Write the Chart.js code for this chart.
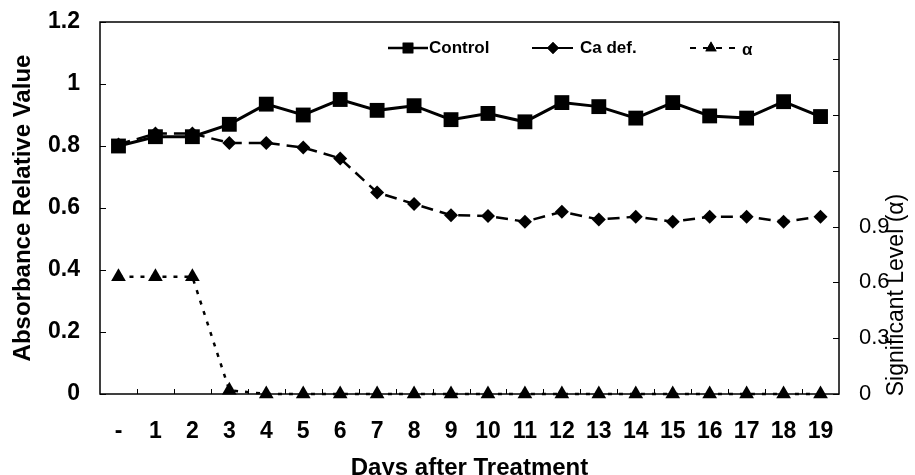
<!DOCTYPE html>
<html>
<head>
<meta charset="utf-8">
<script src="https://cdn.jsdelivr.net/npm/chart.js@4"></script>
<style>
html,body{margin:0;padding:0;background:#fff;}
#wrap{width:915px;height:475px;position:relative;}
</style>
</head>
<body>
<div id="wrap"><canvas id="c" width="915" height="475"></canvas></div>
<script>
// ---- data ----
const categories = ['-','1','2','3','4','5','6','7','8','9','10','11','12','13','14','15','16','17','18','19'];
const controlValues = [0.80,0.83,0.83,0.87,0.935,0.90,0.95,0.915,0.93,0.885,0.905,0.878,0.94,0.927,0.89,0.94,0.897,0.89,0.943,0.895];
const caDefValues = [0.805,0.84,0.84,0.81,0.81,0.795,0.76,0.65,0.613,0.577,0.574,0.556,0.588,0.563,0.572,0.556,0.572,0.572,0.556,0.572];
const alphaValues = [0.63,0.63,0.63,0.02,0,0,0,0,0,0,0,0,0,0,0,0,0,0,0,0];
const seriesNames = ['Control','Ca def.','\u03b1'];
const rightTickLabels = ['0','0.3','0.6','0.9'];
const leftAxisTitle = 'Absorbance Relative Value';
const rightAxisTitle = 'Significant Level (\u03b1)';
const xAxisTitle = 'Days after Treatment';

const FONT = "'Liberation Sans', Arial, sans-serif";

const framePlugin = {
  id: 'frame',
  beforeDatasetsDraw(chart) {
    const {ctx, chartArea: a, scales} = chart;
    ctx.save();
    ctx.strokeStyle = '#000';
    ctx.lineWidth = 1.5;
    ctx.strokeRect(a.left, a.top, a.right - a.left, a.bottom - a.top);
    ctx.lineWidth = 1;
    scales.y.ticks.forEach(t => {
      const py = Math.round(scales.y.getPixelForValue(t.value)) + 0.5;
      ctx.beginPath(); ctx.moveTo(a.left, py); ctx.lineTo(a.left + 6, py); ctx.stroke();
    });
    scales.y1.ticks.forEach(t => {
      const py = Math.round(scales.y1.getPixelForValue(t.value)) + 0.5;
      ctx.beginPath(); ctx.moveTo(a.right, py); ctx.lineTo(a.right - 6, py); ctx.stroke();
    });
    const x = scales.x;
    for (let i = 1; i < categories.length; i++) {
      const px = Math.round((x.getPixelForValue(i - 1) + x.getPixelForValue(i)) / 2) + 0.5;
      ctx.beginPath(); ctx.moveTo(px, a.bottom); ctx.lineTo(px, a.bottom - 5); ctx.stroke();
    }
    ctx.restore();
  },
  afterDraw(chart) {
    const {ctx} = chart;
    ctx.save();
    ctx.fillStyle = '#000';
    ctx.strokeStyle = '#000';
    const ly = 48;
    ctx.setLineDash([]);
    ctx.lineWidth = 2.5;
    ctx.beginPath(); ctx.moveTo(388, ly); ctx.lineTo(428, ly); ctx.stroke();
    Chart.helpers.drawPoint(ctx, {pointStyle:'rect', radius:7.5, borderWidth:0}, 408, ly); ctx.fill();
    ctx.lineWidth = 2;
    ctx.beginPath(); ctx.moveTo(532, ly); ctx.lineTo(573, ly); ctx.stroke();
    Chart.helpers.drawPoint(ctx, {pointStyle:'rectRot', radius:6, borderWidth:0}, 553, ly); ctx.fill();
    ctx.lineWidth = 2;
    ctx.setLineDash([6,7]);
    ctx.beginPath(); ctx.moveTo(690, ly); ctx.lineTo(740, ly); ctx.stroke();
    ctx.setLineDash([]);
    Chart.helpers.drawPoint(ctx, {pointStyle:'triangle', radius:6.5, borderWidth:0}, 711, ly); ctx.fill();
    ctx.font = 'bold 17px ' + FONT;
    ctx.textBaseline = 'middle';
    ctx.textAlign = 'left';
    ctx.fillText(seriesNames[0], 429, ly);
    ctx.fillText(seriesNames[1], 580, ly);
    ctx.fillText(seriesNames[2], 742, ly + 2);
    ctx.translate(897, 295);
    ctx.rotate(-Math.PI / 2);
    ctx.textAlign = 'center';
    ctx.font = '23px ' + FONT;
    ctx.fillText(rightAxisTitle, 0, 0);
    ctx.restore();
  }
};

const fmt = v => String(+Number(v).toFixed(1));

new Chart(document.getElementById('c'), {
  type: 'line',
  data: {
    labels: categories,
    datasets: [
      {
        label: seriesNames[0], data: controlValues, yAxisID: 'y',
        borderColor: '#000', backgroundColor: '#000', borderWidth: 3,
        pointStyle: 'rect', pointRadius: 10.5, pointBorderWidth: 0,
        tension: 0, clip: false
      },
      {
        label: seriesNames[1], data: caDefValues, yAxisID: 'y',
        borderColor: '#000', backgroundColor: '#000', borderWidth: 2.5,
        borderDash: [12, 7],
        pointStyle: 'rectRot', pointRadius: 7, pointBorderWidth: 0,
        tension: 0, clip: false
      },
      {
        label: seriesNames[2], data: alphaValues, yAxisID: 'y1',
        borderColor: '#000', backgroundColor: '#000', borderWidth: 2.5,
        borderDash: [4, 7],
        pointStyle: 'triangle', pointRadius: 8.5, pointBorderWidth: 0,
        tension: 0, clip: false
      }
    ]
  },
  options: {
    responsive: false,
    animation: false,
    devicePixelRatio: 1,
    layout: { padding: { top: 22, left: 0, right: 0, bottom: 0 } },
    plugins: { legend: { display: false }, tooltip: { enabled: false } },
    scales: {
      x: {
        type: 'category', offset: true,
        grid: { display: false, drawTicks: false },
        border: { display: false },
        ticks: { color: '#000', font: { family: FONT, size: 23, weight: 'bold' }, padding: 24, maxRotation: 0, autoSkip: false },
        title: { display: true, text: xAxisTitle, color: '#000', font: { family: FONT, size: 24, weight: 'bold' }, padding: { top: 0, bottom: -8 } },
        afterFit: s => { s.height = 81; s.paddingLeft = 0; s.paddingRight = 0; }
      },
      y: {
        position: 'left', min: 0, max: 1.2,
        grid: { display: false, drawTicks: false },
        border: { display: false },
        ticks: { stepSize: 0.2, color: '#000', font: { family: FONT, size: 23, weight: 'bold' }, padding: 20, callback: v => fmt(v) },
        title: { display: true, text: leftAxisTitle, color: '#000', font: { family: FONT, size: 24, weight: 'bold' }, padding: { top: 9, bottom: 0 } },
        afterFit: s => { s.width = 100; s.paddingTop = 0; s.paddingBottom = 0; }
      },
      y1: {
        position: 'right', min: 0, max: 2.0,
        grid: { display: false, drawTicks: false },
        border: { display: false },
        ticks: {
          stepSize: 0.3, color: '#000', font: { family: FONT, size: 22 }, padding: 20,
          callback: v => { const s = fmt(v); return rightTickLabels.includes(s) ? s : ''; }
        },
        afterFit: s => { s.width = 76; s.paddingTop = 0; s.paddingBottom = 0; }
      }
    }
  },
  plugins: [framePlugin]
});
</script>
</body>
</html>
